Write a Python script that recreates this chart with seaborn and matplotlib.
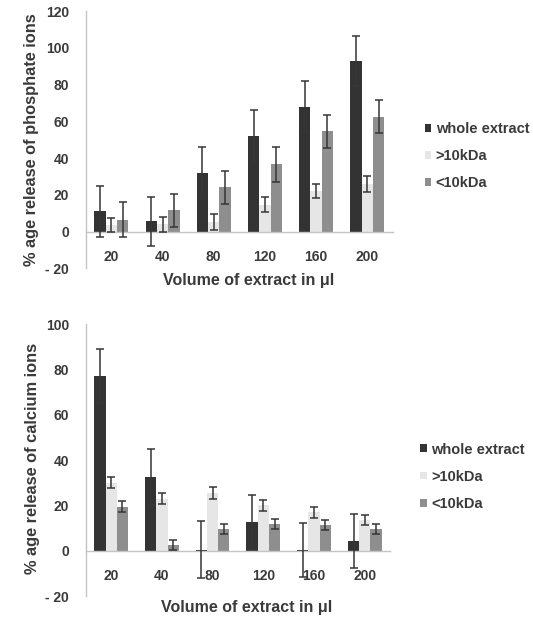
import numpy as np
import pandas as pd
import seaborn as sns
import matplotlib.pyplot as plt
from matplotlib.ticker import FixedLocator

# values
volumes = ["20", "40", "80", "120", "160", "200"]
fractions = ["whole extract", ">10kDa", "<10kDa"]

phosphate_whole = [11, 5.5, 32, 52, 68, 93]
phosphate_whole_err = [14, 13.5, 14, 14, 14, 13.5]
phosphate_gt10 = [3.5, 4, 5, 14.7, 22, 26]
phosphate_gt10_err = [4, 4, 4.3, 4.3, 4, 4.3]
phosphate_lt10 = [6.5, 11.5, 24, 36.6, 54.5, 62.5]
phosphate_lt10_err = [9.5, 9, 9, 9.5, 9, 9]

calcium_whole = [77, 32.5, 0.5, 12.7, 0.3, 4.3]
calcium_whole_err = [12, 12.5, 12.5, 12, 12, 12]
calcium_gt10 = [30, 23, 25.5, 20, 17, 13.5]
calcium_gt10_err = [2.5, 2.5, 2.5, 2.5, 2.5, 2.3]
calcium_lt10 = [19.5, 2.7, 9.6, 11.8, 11.3, 9.8]
calcium_lt10_err = [2.5, 2.2, 2.2, 2.2, 2.2, 2.2]

palette = {"whole extract": "#333333", ">10kDa": "#e6e6e6", "<10kDa": "#8e8e8e"}
txt = "#3a3a3a"
axis_grey = "#c4c4c4"

sns.set_style("white")
plt.rcParams['font.family'] = ['Liberation Sans', 'DejaVu Sans']
plt.rcParams['font.weight'] = 'bold'


def panel(ax, series, errs, ylim, yticks, ylabel, leg_xy, xlab_y, ylab_y):
    df = pd.DataFrame({
        "volume": volumes * 3,
        "fraction": np.repeat(fractions, len(volumes)),
        "value": series[0] + series[1] + series[2],
    })
    sns.barplot(data=df, x="volume", y="value", hue="fraction", order=volumes,
                hue_order=fractions, palette=palette, width=0.665, gap=0,
                saturation=1, errorbar=None, linewidth=0, ax=ax)
    # error bars at the bar centres seaborn gave us
    for cont, err in zip(ax.containers, errs):
        xs = [p.get_x() + p.get_width() / 2 for p in cont.patches]
        ys = [p.get_height() for p in cont.patches]
        ax.errorbar(xs, ys, yerr=err, fmt='none', ecolor='#363636',
                    elinewidth=1.1, capsize=2.6, capthick=1.1, zorder=3)

    ax.set_xlim(-0.5, 5.5)
    ax.set_ylim(*ylim)
    ax.set_yticks(yticks, ["- 20" if t < 0 else str(t) for t in yticks])
    sns.despine(ax=ax)
    ax.spines['bottom'].set_position(('data', 0))
    for s in ('left', 'bottom'):
        ax.spines[s].set_color(axis_grey)
        ax.spines[s].set_linewidth(1)
    ax.xaxis.set_minor_locator(FixedLocator(np.arange(-0.5, 6, 1)))
    ax.tick_params(axis='x', which='major', length=0, pad=13,
                   labelsize=10, labelcolor=txt)
    ax.tick_params(axis='x', which='minor', length=4, color=axis_grey,
                   direction='out')
    ax.tick_params(axis='y', length=4, color=axis_grey, direction='out',
                   labelsize=10, labelcolor=txt, pad=8)
    for lab in ax.get_xticklabels() + ax.get_yticklabels():
        lab.set_fontweight('bold')

    ax.set_xlabel("Volume of extract in μl", fontsize=11.5, fontweight='bold',
                  color=txt)
    ax.xaxis.set_label_coords(0.53, xlab_y)
    ax.xaxis.label.set_va('center')
    ax.set_ylabel(ylabel, fontsize=11.8, fontweight='bold', color=txt)
    ax.yaxis.set_label_coords(-0.176, ylab_y)
    ax.yaxis.label.set_va('center')

    leg = ax.get_legend()
    handles = leg.legend_handles
    labels = [t.get_text() for t in leg.get_texts()]
    leg.remove()
    ax.legend(handles, labels, loc='upper left', bbox_to_anchor=leg_xy,
              bbox_transform=ax.figure.transFigure, frameon=False,
              borderpad=0, handlelength=0.45, handleheight=0.45,
              handletextpad=0.3, labelspacing=0.9, labelcolor=txt,
              prop={'size': 10.5, 'weight': 'bold'})


fig = plt.figure(figsize=(5.33, 6.21), dpi=100)
ax1 = fig.add_axes([0.161, 0.568, 0.576, 0.414])
ax2 = fig.add_axes([0.161, 0.040, 0.571, 0.438])

panel(ax1, [phosphate_whole, phosphate_gt10, phosphate_lt10],
      [phosphate_whole_err, phosphate_gt10_err, phosphate_lt10_err],
      (-20, 120), list(range(-20, 121, 20)),
      "% age release of phosphate ions", (0.783, 0.815), -0.047, 0.5)
panel(ax2, [calcium_whole, calcium_gt10, calcium_lt10],
      [calcium_whole_err, calcium_gt10_err, calcium_lt10_err],
      (-20, 100), list(range(-20, 101, 20)),
      "% age release of calcium ions", (0.775, 0.299), -0.040, 0.507)

fig.savefig("out.png", dpi=100)
